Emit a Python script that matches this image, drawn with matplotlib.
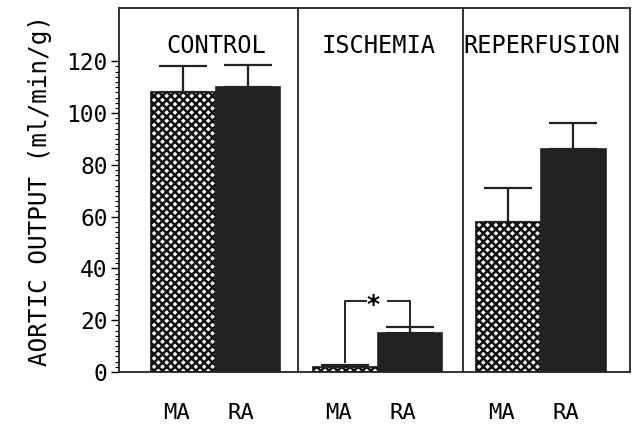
import matplotlib.pyplot as plt
import numpy as np

plt.rcParams['hatch.linewidth'] = 1.8
plt.rcParams['font.family'] = 'DejaVu Sans Mono'

groups = ["CONTROL", "ISCHEMIA", "REPERFUSION"]
ma_mean = [108, 2, 58]
ma_err = [10, 0.5, 13]
ra_mean = [110, 15, 86]
ra_err = [8.5, 2.5, 10]

# group centres (boundary between MA and RA bars) and dividers
centers = np.array([0.569, 1.52, 2.477])
dividers = [1.051, 2.02]
w = 0.38

fig = plt.figure(figsize=(6.35, 4.32), dpi=100)
ax = fig.add_axes([0.187, 0.139, 0.805, 0.842])

ma_x = centers - w / 2
ra_x = centers + w / 2
ax.bar(ma_x, ma_mean, width=w, color='white', edgecolor='#111111',
       hatch='xxxx', linewidth=1.2, zorder=2)
ax.bar(ra_x, ra_mean, width=w, color='#222222', edgecolor='#222222',
       linewidth=1.2, zorder=2)
ax.errorbar(ma_x, ma_mean, yerr=[np.zeros(3), ma_err], fmt='none',
            ecolor='#222222', elinewidth=1.6, capsize=17, capthick=1.6, zorder=3)
ax.errorbar(ra_x, ra_mean, yerr=[np.zeros(3), ra_err], fmt='none',
            ecolor='#222222', elinewidth=1.6, capsize=17, capthick=1.6, zorder=3)

for d in dividers:
    ax.axvline(d, color='#222222', linewidth=1.3)

for c, g in zip(centers, groups):
    ax.text(c + 0.005, 126, g, ha='center', va='center', fontsize=17)

# significance bracket in the ischemia group
yb = 27.5
ax.plot([ma_x[1], ma_x[1], ma_x[1] + 0.12], [ma_mean[1] + 2, yb, yb],
        color='#222222', lw=1.4)
ax.plot([ra_x[1] - 0.13, ra_x[1], ra_x[1]], [yb, yb, ra_mean[1] + ra_err[1]],
        color='#222222', lw=1.4)
ax.text(centers[1] - 0.03, yb - 1.5, "*", ha='center', va='center',
        fontsize=18, fontweight='bold')

ax.set_xlim(0, 3.0)
ax.set_ylim(0, 140.5)
ax.set_yticks(np.arange(0, 121, 20))
ax.set_yticks(np.arange(0, 121, 2), minor=True)
ax.tick_params(axis='y', which='major', length=6, width=1, labelsize=16.5, pad=2)
ax.tick_params(axis='y', which='minor', length=3, width=0.8)
ax.set_xticks(np.concatenate([ma_x - 0.04, ra_x - 0.04]))
ax.set_xticklabels(["MA"] * 3 + ["RA"] * 3, fontsize=16)
ax.tick_params(axis='x', length=0, pad=22)
for s in ax.spines.values():
    s.set_linewidth(1.3)
    s.set_color('#222222')

ax.set_ylabel("AORTIC OUTPUT (ml/min/g)", fontsize=17.5, labelpad=10)

fig.savefig("out.png", dpi=100)
